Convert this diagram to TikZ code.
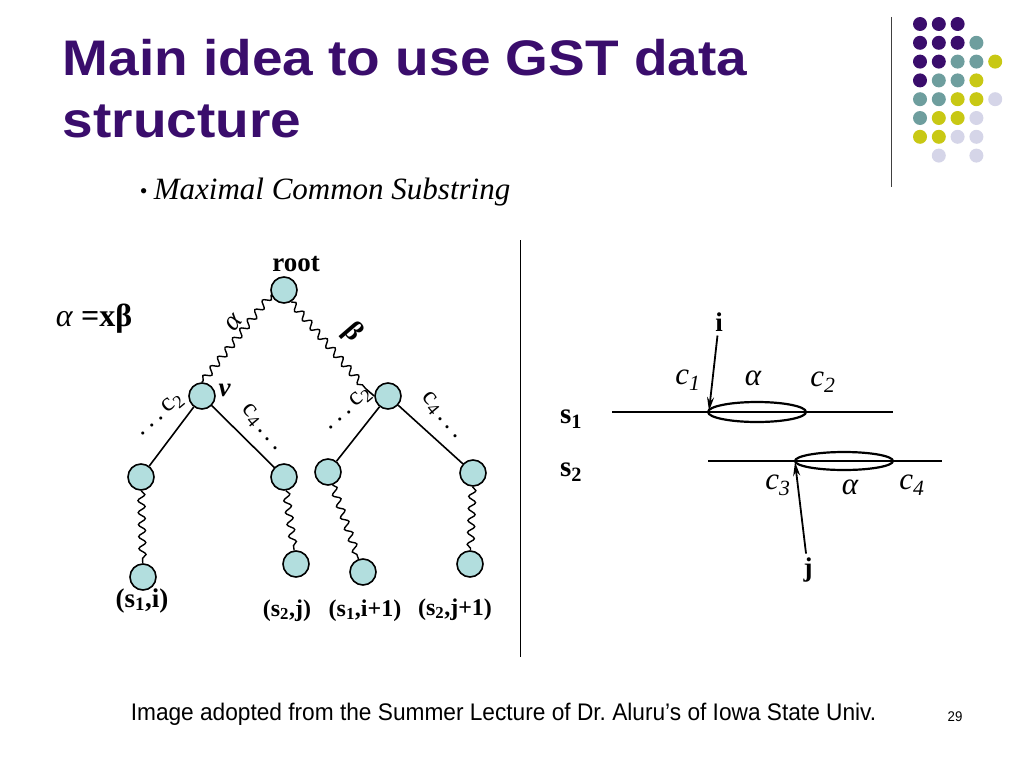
\documentclass[tikz,border=0pt]{standalone}
\usepackage{fontspec}
\setmainfont{Liberation Serif}
\setsansfont{Liberation Sans}
\newfontfamily\titlefont[FakeStretch=1.1]{Liberation Sans}
\newfontfamily\footfont[FakeStretch=0.945]{Liberation Sans}
\usetikzlibrary{arrows.meta,decorations.pathmorphing}
\definecolor{titlepurple}{HTML}{3A0D6C}
\definecolor{dotteal}{HTML}{6E9E9E}
\definecolor{dotyellow}{HTML}{C8C814}
\definecolor{dotlilac}{HTML}{D5D5E8}
\definecolor{nodeblue}{HTML}{B2DEDE}
\newcommand{\spacedots}{.\kern5pt.\kern5pt.}
\tikzset{
  vert/.style={shape=circle,draw=black,fill=nodeblue,line width=1.6pt,minimum size=26pt,inner sep=0pt},
  wavy/.style={decorate,decoration={snake,amplitude=3.5pt,segment length=12pt},line width=1.4pt},
  lbl/.style={font=\fontsize{24}{26}\selectfont\bfseries},
  clbl/.style={font=\fontsize{26}{28}\selectfont,inner sep=1pt},
  rlbl/.style={font=\fontsize{31}{33}\selectfont\itshape},
  slbl/.style={font=\fontsize{29}{31}\selectfont\bfseries},
}
\begin{document}
\begin{tikzpicture}[x=1pt,y=-1pt,line width=1.6pt,>={Stealth[length=14pt,width=7pt]}]
  \useasboundingbox (0,0) rectangle (1024,768);
  % slide title and bullet
  \node [anchor=base west,inner sep=0pt,text=titlepurple,font=\titlefont\bfseries\fontsize{50}{56}\selectfont] (title1) at (62,75) {Main idea to use GST data};
  \node [anchor=base west,inner sep=0pt,text=titlepurple,font=\titlefont\bfseries\fontsize{50}{56}\selectfont] (title2) at (62,137) {structure};
  \node [anchor=base west,inner sep=0pt,font=\fontsize{22}{24}\selectfont] (bullet) at (139,198) {•};
  \node [anchor=base west,inner sep=0pt,font=\fontsize{31}{33}\selectfont\itshape] (sub) at (153,199) {Maximal Common Substring};
  % corner dots
  \draw [line width=1.2pt,black!75] (891.5,17) -- (891.5,187);
  \foreach \c/\r/\col in {0/0/titlepurple,1/0/titlepurple,2/0/titlepurple,
      0/1/titlepurple,1/1/titlepurple,2/1/titlepurple,3/1/dotteal,
      0/2/titlepurple,1/2/titlepurple,2/2/dotteal,3/2/dotteal,4/2/dotyellow,
      0/3/titlepurple,1/3/dotteal,2/3/dotteal,3/3/dotyellow,
      0/4/dotteal,1/4/dotteal,2/4/dotyellow,3/4/dotyellow,4/4/dotlilac,
      0/5/dotteal,1/5/dotyellow,2/5/dotyellow,3/5/dotlilac,
      0/6/dotyellow,1/6/dotyellow,2/6/dotlilac,3/6/dotlilac,
      1/7/dotlilac,3/7/dotlilac}
    \fill [\col] (920+18.8*\c,24+18.8*\r) circle (7);
  % separator
  \draw [line width=1pt] (520,240) -- (520,657);

  % tree
  \node [vert,label={[lbl,font=\fontsize{27}{29}\selectfont\bfseries,xshift=12pt]above:root}] (root) at (284,290) {};
  \node [vert,label={[font=\fontsize{27}{29}\selectfont\bfseries\itshape,yshift=6pt,inner sep=2pt]right:v}] (v) at (202,396) {};
  \node [vert] (w) at (388,396) {};
  \node [vert] (l1) at (141,477) {};
  \node [vert] (l2) at (284,477) {};
  \node [vert] (l3) at (328,472) {};
  \node [vert] (l4) at (473,473) {};
  \node [vert] (b1) at (143,577) {};
  \node [vert] (b2) at (296,564) {};
  \node [vert] (b3) at (363,572) {};
  \node [vert] (b4) at (470,564) {};
  \coordinate (wend) at (366,389);
  \path (v) edge (l1) edge (l2) (w) edge (l3) edge (l4);
  \draw [wavy] (root.200) -- node [pos=0.4,sloped,above,inner sep=4pt,font=\fontsize{28}{30}\selectfont\itshape] (alab) {α} (v.north);
  \draw [wavy] (root.300) -- node [pos=0.55,sloped,above,inner sep=13pt,font=\fontsize{28}{30}\selectfont\bfseries] (blab) {β} (wend);
  \draw (wend) -- (w.west);
  \draw [wavy] (l1) -- (b1);
  \draw [wavy] (l2) -- (b2);
  \draw [wavy] (l3) -- (b3);
  \draw [wavy] (l4) -- (b4);
  \node [clbl,rotate=40] (vc2) at (160,415) {\spacedots\kern5pt c\textsubscript{2}};
  \node [clbl,rotate=-50] (vc4) at (262,428) {c\textsubscript{4}\kern4pt\spacedots};
  \node [clbl,rotate=40] (wc2) at (348,409) {\spacedots\kern5pt c\textsubscript{2}};
  \node [clbl,rotate=-50] (wc4) at (442,416) {c\textsubscript{4}\kern4pt\spacedots};
  \node [anchor=base west,inner sep=0pt,font=\fontsize{32}{34}\selectfont] (eq) at (55,326) {\textit{α} \textbf{=xβ}};
  \node [lbl,anchor=base,font=\fontsize{27}{29}\selectfont\bfseries] (t1) at (142,607) {(s\textsubscript{1},i)};
  \node [lbl,anchor=base] (t2) at (287,616) {(s\textsubscript{2},j)};
  \node [lbl,anchor=base] (t3) at (365,616) {(s\textsubscript{1},i+1)};
  \node [lbl,anchor=base] (t4) at (455,615) {(s\textsubscript{2},j+1)};

  % two strings
  \node [slbl] (s1) at (571,419) {s\textsubscript{1}};
  \node [slbl] (s2) at (571,472) {s\textsubscript{2}};
  \coordinate (s1a) at (612,412);
  \coordinate (s1b) at (893,412);
  \coordinate (s2a) at (708,461);
  \coordinate (s2b) at (942,461);
  \draw [line width=2pt] (s1a) -- (s1b);
  \draw (s2a) -- (s2b);
  \draw [line width=2.2pt] (757,412) ellipse (49 and 10);
  \draw [line width=2.2pt] (844,461) ellipse (49 and 9);
  \node [slbl,font=\fontsize{27}{29}\selectfont\bfseries] (i) at (719,322) {i};
  \node [slbl,font=\fontsize{27}{29}\selectfont\bfseries] (j) at (808,570) {j};
  \coordinate (itip) at (709,411);
  \coordinate (jtip) at (795,462);
  \path [->,line width=1.8pt] (i) edge (itip) (j) edge (jtip);
  \node [rlbl] (c1) at (688,380) {c\textsubscript{1}};
  \node [rlbl] (al1) at (753,378) {α};
  \node [rlbl] (c2) at (823,382) {c\textsubscript{2}};
  \node [rlbl] (c3) at (778,485) {c\textsubscript{3}};
  \node [rlbl] (al2) at (850,487) {α};
  \node [rlbl] (c4) at (912,485) {c\textsubscript{4}};

  % footer
  \node [anchor=base west,inner sep=0pt,font=\footfont\fontsize{24}{26}\selectfont] (foot) at (130,720) {Image adopted from the Summer Lecture of Dr.\ Aluru’s of Iowa State Univ.};
  \node [anchor=base,inner sep=0pt,font=\footfont\fontsize{14}{16}\selectfont] (page) at (955,721) {29};
\end{tikzpicture}
\end{document}
